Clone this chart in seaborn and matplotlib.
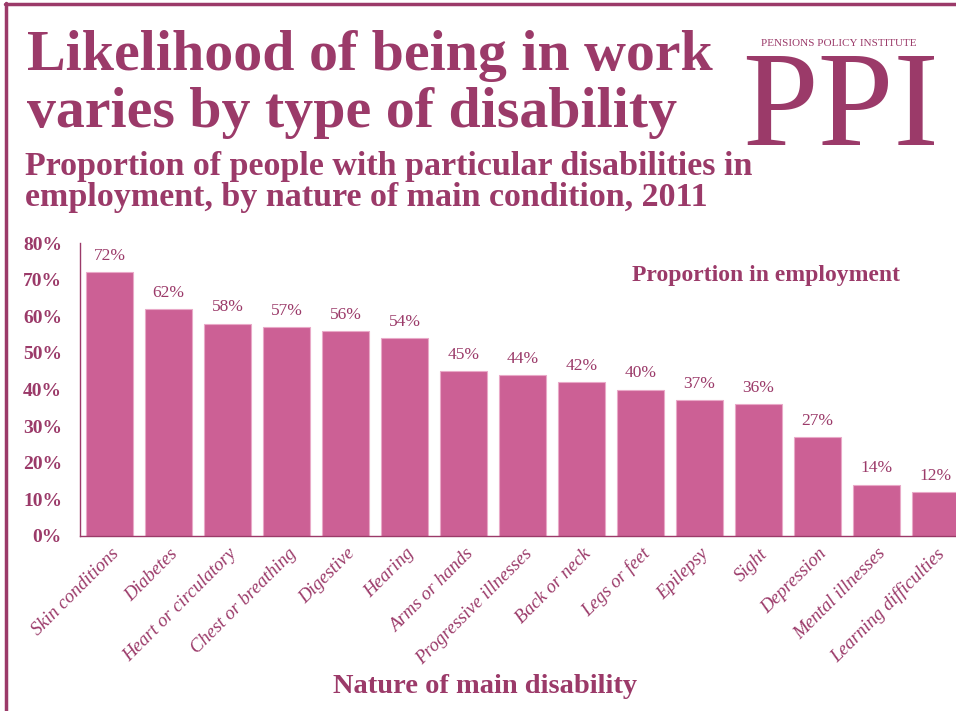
import matplotlib
matplotlib.use("Agg")
import matplotlib.pyplot as plt
import seaborn as sns
from matplotlib.lines import Line2D
from matplotlib.transforms import ScaledTranslation

# Data
conditions = ["Skin conditions", "Diabetes", "Heart or circulatory", "Chest or breathing",
              "Digestive", "Hearing", "Arms or hands", "Progressive illnesses",
              "Back or neck", "Legs or feet", "Epilepsy", "Sight", "Depression",
              "Mental illnesses", "Learning difficulties"]
employed = [72, 62, 58, 57, 56, 54, 45, 44, 42, 40, 37, 36, 27, 14, 12]
y_ticks = [0, 10, 20, 30, 40, 50, 60, 70, 80]

plum = "#9b3a69"
bar_col = "#cc6095"

sns.set_style("white")
plt.rcParams["font.family"] = ["Liberation Serif", "DejaVu Serif"]

W, H = 956, 711
fig = plt.figure(figsize=(W / 100, H / 100), dpi=100)

# axes placed in pixel terms
ax = fig.add_axes([80 / W, (H - 536) / H, 885 / W, 293 / H])
sns.barplot(x=conditions, y=employed, color=bar_col, saturation=1, width=0.8,
            edgecolor="#e9a9c8", linewidth=0.8, ax=ax)
ax.set_xlim(-0.5, len(conditions) - 0.5)
ax.set_ylim(0, 80)

ax.bar_label(ax.containers[0], labels=[f"{v}%" for v in employed], padding=6,
             fontsize=12.5, color=plum)

ax.set_yticks(y_ticks)
ax.set_yticklabels([f"{t}%" for t in y_ticks], fontsize=14, fontweight="bold", color=plum)
ax.tick_params(axis="y", length=0, pad=13)
ax.tick_params(axis="x", length=0, pad=11)
ax.set_xticks(range(len(conditions)))
ax.set_xticklabels(conditions, rotation=45, ha="right", va="center",
                   rotation_mode="anchor", fontsize=13.5, style="italic", color=plum)
shift = ScaledTranslation(5 / 72, 0, fig.dpi_scale_trans)
for lab in ax.get_xticklabels():
    lab.set_transform(lab.get_transform() + shift)

for s in ["top", "right"]:
    ax.spines[s].set_visible(False)
for s in ["left", "bottom"]:
    ax.spines[s].set_color(plum)
    ax.spines[s].set_linewidth(1.0)

fig.text(632 / W, 1 - 281 / H, "Proportion in employment",
         fontsize=17, fontweight="bold", color=plum, va="baseline")

# titles
fig.text(27 / W, 1 - 70 / H, "Likelihood of being in work", fontsize=41.7,
         fontweight="bold", color=plum, va="baseline")
fig.text(27 / W, 1 - 127 / H, "varies by type of disability", fontsize=41.7,
         fontweight="bold", color=plum, va="baseline")
fig.text(25 / W, 1 - 175 / H, "Proportion of people with particular disabilities in",
         fontsize=24.5, fontweight="bold", color=plum, va="baseline")
fig.text(25 / W, 1 - 206 / H, "employment, by nature of main condition, 2011",
         fontsize=24.5, fontweight="bold", color=plum, va="baseline")

fig.text(485 / W, 1 - 693 / H, "Nature of main disability", fontsize=20.5,
         fontweight="bold", color=plum, ha="center", va="baseline")

# logo
fig.text(839 / W, 1 - 46 / H, "PENSIONS POLICY INSTITUTE", fontsize=8,
         color=plum, ha="center", va="baseline")
fig.text(840 / W, 1 - 145 / H, "PPI", fontsize=98, color=plum,
         ha="center", va="baseline")

# frame lines
fig.add_artist(Line2D([5 / W, 1], [1 - 4 / H, 1 - 4 / H], color=plum, lw=2.5))
fig.add_artist(Line2D([6 / W, 6 / W], [0, 1 - 3 / H], color=plum, lw=2.5))

fig.savefig("out.png", dpi=100)
